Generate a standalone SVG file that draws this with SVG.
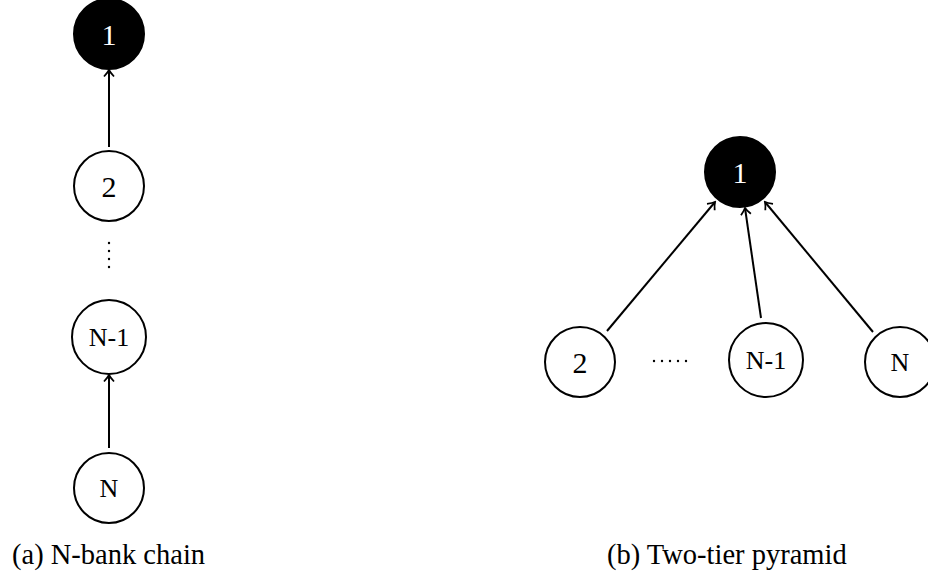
<svg xmlns="http://www.w3.org/2000/svg" width="928" height="577" viewBox="0 0 928 577">
<style>
.node circle{fill:#fff;stroke:#000;stroke-width:2}
.node.root circle{fill:#000}
.node text{font-family:"Liberation Serif",serif;text-anchor:middle;dominant-baseline:central;fill:#000}
.node.root text{fill:#fff}
.edge{stroke:#000;stroke-width:2;fill:none;marker-end:url(#arr)}
.cap{font-family:"Liberation Serif",serif;font-size:28.5px;fill:#000}
.dots{fill:#000}
</style>
<defs>
<marker id="arr" viewBox="-8 -6 10 12" refX="0" refY="0" markerWidth="10" markerHeight="12" markerUnits="userSpaceOnUse" orient="auto">
<path d="M-6.5,-5 Q-2.5,-1.2 0,0 Q-2.5,1.2 -6.5,5" fill="none" stroke="#000" stroke-width="1.8"/>
</marker>
</defs>
<g id="connectors">
<line class="edge" x1="109" y1="147" x2="109" y2="70"/>
<line class="edge" x1="109" y1="448" x2="109" y2="375"/>
<line class="edge" x1="607" y1="331" x2="715" y2="202"/>
<line class="edge" x1="761" y1="318" x2="745" y2="208"/>
<line class="edge" x1="873" y1="332" x2="765" y2="202"/>
</g>
<g id="a1" class="node root"><circle cx="109" cy="34" r="35"/><text x="109" y="34" font-size="30">1</text></g>
<g id="a2" class="node"><circle cx="109" cy="186" r="35"/><text x="109" y="186" font-size="30">2</text></g>
<g id="adots" class="dots"><circle cx="109" cy="243" r="1.2"/><circle cx="109" cy="251" r="1.2"/><circle cx="109" cy="259" r="1.2"/><circle cx="109" cy="267" r="1.2"/></g>
<g id="aN1" class="node"><circle cx="109" cy="337" r="37"/><text x="109" y="337" font-size="26">N-1</text></g>
<g id="aN" class="node"><circle cx="109" cy="488" r="35"/><text x="109" y="488" font-size="26">N</text></g>
<g id="b1" class="node root"><circle cx="740" cy="172" r="35"/><text x="740" y="172" font-size="30">1</text></g>
<g id="b2" class="node"><circle cx="580" cy="362" r="35"/><text x="580" y="362" font-size="30">2</text></g>
<g id="bdots" class="dots"><circle cx="654" cy="361" r="1.2"/><circle cx="662" cy="361" r="1.2"/><circle cx="670" cy="361" r="1.2"/><circle cx="678" cy="361" r="1.2"/><circle cx="686" cy="361" r="1.2"/></g>
<g id="bN1" class="node"><circle cx="766" cy="360" r="37"/><text x="766" y="360" font-size="26">N-1</text></g>
<g id="bN" class="node"><circle cx="900" cy="362" r="35"/><text x="900" y="362" font-size="26">N</text></g>
<text class="cap" x="12" y="564">(a) N-bank chain</text>
<text class="cap" x="607" y="564">(b) Two-tier pyramid</text>
</svg>
